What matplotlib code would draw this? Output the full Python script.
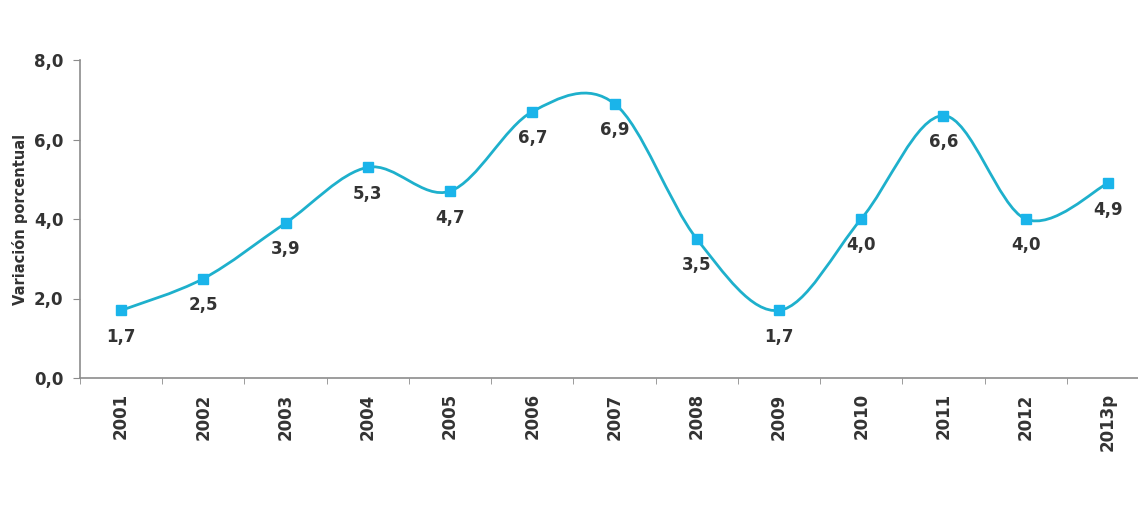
import matplotlib.pyplot as plt
import numpy as np
from matplotlib.path import Path
from matplotlib.patches import PathPatch

# Data
years = ['2001', '2002', '2003', '2004', '2005', '2006', '2007',
         '2008', '2009', '2010', '2011', '2012', '2013p']
values = [1.7, 2.5, 3.9, 5.3, 4.7, 6.7, 6.9, 3.5, 1.7, 4.0, 6.6, 4.0, 4.9]
labels = ['1,7', '2,5', '3,9', '5,3', '4,7', '6,7', '6,9',
          '3,5', '1,7', '4,0', '6,6', '4,0', '4,9']
y_ticks = [0, 2, 4, 6, 8]
y_tick_labels = ['0,0', '2,0', '4,0', '6,0', '8,0']

line_color = '#1eb0cc'
marker_color = '#1ab4ea'
text_color = '#333333'
axis_color = '#8c8c8c'

fig = plt.figure(figsize=(11.38, 5.18), dpi=100)
ax = fig.add_axes([80 / 1138, 140 / 518, 1069 / 1138, 318 / 518])

x = np.arange(len(values))
y = np.array(values)

# Smoothed line like a spreadsheet "smoothed line": cubic Bezier segments
verts = [(x[0], y[0])]
codes = [Path.MOVETO]
n = len(x)
for i in range(n - 1):
    p0 = np.array([x[max(i - 1, 0)], y[max(i - 1, 0)]])
    p1 = np.array([x[i], y[i]])
    p2 = np.array([x[i + 1], y[i + 1]])
    p3 = np.array([x[min(i + 2, n - 1)], y[min(i + 2, n - 1)]])
    c1 = p1 + (p2 - p0) / 6
    c2 = p2 - (p3 - p1) / 6
    verts += [tuple(c1), tuple(c2), tuple(p2)]
    codes += [Path.CURVE4] * 3
ax.add_patch(PathPatch(Path(verts, codes), facecolor='none',
                       edgecolor=line_color, lw=2.0, zorder=2))

ax.plot(x, y, linestyle='none', marker='s', markersize=7,
        color=marker_color, zorder=3)

for xi, yi, lab in zip(x, y, labels):
    ax.annotate(lab, (xi, yi), xytext=(0, -19), textcoords='offset points',
                ha='center', va='center', fontsize=12, fontweight='bold',
                color=text_color)

ax.set_xlim(-0.5, len(years) - 0.5)
ax.set_ylim(0, 8)
ax.set_yticks(y_ticks)
ax.set_yticklabels(y_tick_labels)
ax.set_xticks(x)
ax.set_xticklabels(years, rotation=90)
ax.set_xticks(np.arange(len(years) + 1) - 0.5, minor=True)
ax.tick_params(axis='x', which='major', length=0, pad=11)
ax.tick_params(axis='x', which='minor', length=4, color=axis_color)
ax.tick_params(axis='y', length=5, color=axis_color, pad=7)
for lab in ax.get_xticklabels() + ax.get_yticklabels():
    lab.set_fontweight('bold')
    lab.set_fontsize(12)
    lab.set_color(text_color)

for side in ['top', 'right']:
    ax.spines[side].set_visible(False)
for side in ['left', 'bottom']:
    ax.spines[side].set_color(axis_color)
    ax.spines[side].set_linewidth(1.2)

ax.set_ylabel('Variación porcentual', fontsize=10.5, fontweight='bold',
              color=text_color, labelpad=4)

fig.savefig('out.png', dpi=100)
